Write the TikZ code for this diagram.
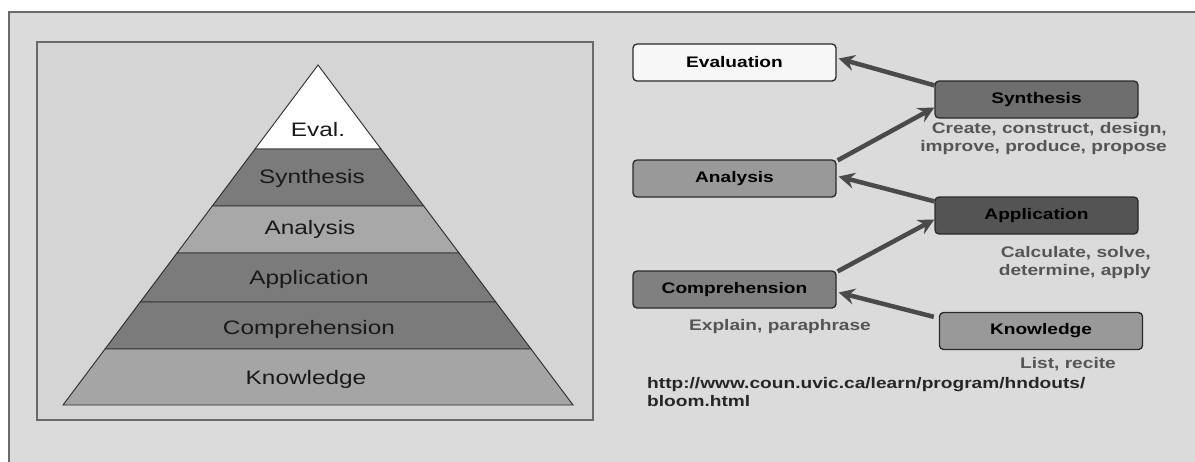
\documentclass[tikz,border=0pt]{standalone}
\usepackage{fontspec}
\setmainfont{Liberation Sans}[FakeStretch=1.25]
\usetikzlibrary{arrows.meta}
\definecolor{outerbg}{HTML}{DBDBDB}
\definecolor{innerbg}{HTML}{D5D5D5}
\definecolor{framec}{HTML}{6A6A6A}
\definecolor{pdark}{HTML}{7B7B7B}
\definecolor{plight}{HTML}{A8A8A8}
\definecolor{arrowc}{HTML}{4A4A4A}
\definecolor{labelc}{HTML}{555555}
\definecolor{edgec}{HTML}{2A2A2A}
\tikzset{
  layer/.style={draw=edgec, line width=0.9pt},
  ptext/.style={font=\fontsize{19.5}{22}\selectfont, text=black!90},
  levelbox/.style={draw=edgec, line width=1.3pt, rounded corners=4pt, minimum width=203pt, minimum height=37pt, inner sep=0pt, font=\fontsize{15.3}{18}\selectfont\bfseries, text=black},
  verbs/.style={font=\fontsize{15.3}{18}\selectfont\bfseries, text=labelc, inner sep=0pt},
  link/.style={draw=arrowc, line width=4.5pt, -{Stealth[length=16pt,width=16pt,inset=5.5pt]}},
}
\begin{document}
\begin{tikzpicture}[x=1pt,y=-1pt]
\useasboundingbox (0,0) rectangle (1195,461);
\fill[white] (0,0) rectangle (1195,461);
% outer frame
\draw[fill=outerbg, draw=framec, line width=2pt] (8.5,11.5) rectangle (1210,480);
% inner frame
\draw[fill=innerbg, draw=framec, line width=2.5pt] (37,42) rectangle (593,420);
% pyramid layers
\draw[layer, fill=white] (318,65) -- (381,149) -- (255,149) -- cycle;
\draw[layer, fill=pdark] (255,149) -- (381,149) -- (423.75,206) -- (212.25,206) -- cycle;
\draw[layer, fill=plight] (212.25,206) -- (423.75,206) -- (459,253) -- (177,253) -- cycle;
\draw[layer, fill=pdark] (177,253) -- (459,253) -- (495.75,302) -- (140.25,302) -- cycle;
\draw[layer, fill=pdark] (140.25,302) -- (495.75,302) -- (531,349) -- (105,349) -- cycle;
\draw[layer, fill=plight!98!black] (105,349) -- (531,349) -- (573,405) -- (63,405) -- cycle;
\node[ptext] (pe) at (318,130) {Eval.};
\node[ptext] (ps) at (312,178) {Synthesis};
\node[ptext] (pa) at (310,229) {Analysis};
\node[ptext] (pp) at (309,279) {Application};
\node[ptext] (pc) at (309,329) {Comprehension};
\node[ptext] (pk) at (306,379) {Knowledge};
% level boxes
\node[levelbox, fill=white!97!black] (eval) at (734.5,62.5) {Evaluation};
\node[levelbox, fill=black!57] (syn) at (1036.5,99.5) {Synthesis};
\node[levelbox, fill=black!40] (ana) at (734.5,178.5) {Analysis};
\node[levelbox, fill=black!67] (app) at (1036.5,215.5) {Application};
\node[levelbox, fill=black!50] (com) at (734.5,289.5) {Comprehension};
\node[levelbox, fill=black!40] (kno) at (1041,331) {Knowledge};
% verb labels
\node[verbs, anchor=east, align=right] (synv) at (1167,139) {Create, construct, design,\\improve, produce, propose};
\node[verbs, anchor=east, align=right] (appv) at (1151,263) {Calculate, solve,\\determine, apply};
\node[verbs] (comv) at (780,327) {Explain, paraphrase};
\node[verbs] (knov) at (1068,364) {List, recite};
\node[verbs, anchor=west, align=left, text=black!85] (url) at (647,392) {http://www.coun.uvic.ca/learn/program/hndouts/\\bloom.html};
% arrows
\draw[link] ([yshift=-5pt]syn.north west) -- ([xshift=2pt,yshift=4pt]eval.east);
\draw[link] ([xshift=1pt,yshift=-1pt]ana.north east) -- ([yshift=-8pt]syn.west);
\draw[link] ([yshift=-5pt]app.north west) -- ([xshift=2pt,yshift=2pt]ana.east);
\draw[link] ([xshift=1pt,yshift=-1pt]com.north east) -- ([yshift=-4pt]app.west);
\draw[link] ([xshift=-5pt,yshift=-5pt]kno.north west) -- ([xshift=2pt,yshift=-3pt]com.east);
\end{tikzpicture}
\end{document}
